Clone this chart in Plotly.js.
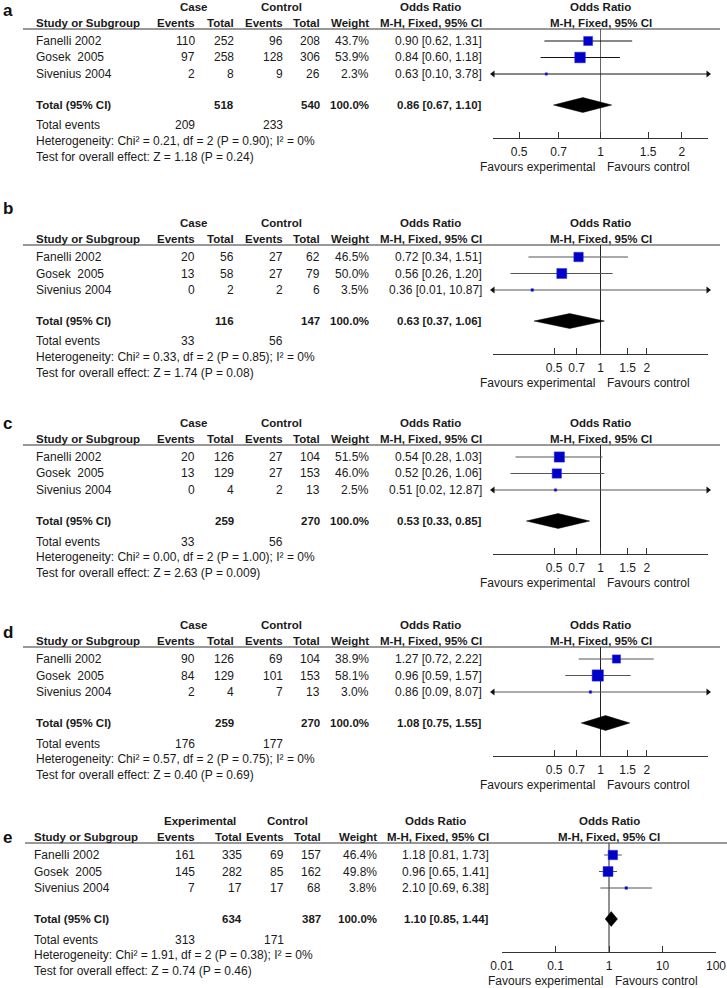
<!DOCTYPE html>
<html><head><meta charset="utf-8">
<script src="https://cdn.plot.ly/plotly-3.0.1.min.js"></script>
<style>html,body{margin:0;padding:0;background:#fff}</style>
</head><body><div id="chart" style="width:727px;height:988px"></div>
<script>
// ---------- DATA ----------
const panelLetters = ['a','b','c','d','e'];
const groupLabels = ['Case','Case','Case','Case','Experimental'];
const studies = ['Fanelli 2002','Gosek \u00a02005','Sivenius 2004'];
const expEvents = [[110,97,2],[20,13,0],[20,13,0],[90,84,2],[161,145,7]];
const expTotal  = [[252,258,8],[56,58,2],[126,129,4],[126,129,4],[335,282,17]];
const ctlEvents = [[96,128,9],[27,27,2],[27,27,2],[69,101,7],[69,85,17]];
const ctlTotal  = [[208,306,26],[62,79,6],[104,153,13],[104,153,13],[157,162,68]];
const weights   = [[43.7,53.9,2.3],[46.5,50.0,3.5],[51.5,46.0,2.5],[38.9,58.1,3.0],[46.4,49.8,3.8]];
const orVal     = [[0.90,0.84,0.63],[0.72,0.56,0.36],[0.54,0.52,0.51],[1.27,0.96,0.86],[1.18,0.96,2.10]];
const ciLow     = [[0.62,0.60,0.10],[0.34,0.26,0.01],[0.28,0.26,0.02],[0.72,0.59,0.09],[0.81,0.65,0.69]];
const ciHigh    = [[1.31,1.18,3.78],[1.51,1.20,10.87],[1.03,1.06,12.87],[2.22,1.57,8.07],[1.73,1.41,6.38]];
const totExp = [518,116,259,259,634];
const totCtl = [540,147,270,270,387];
const totEventsExp = [209,33,33,176,313];
const totEventsCtl = [233,56,56,177,171];
const pooledOR   = [0.86,0.63,0.53,1.08,1.10];
const pooledLow  = [0.67,0.37,0.33,0.75,0.85];
const pooledHigh = [1.10,1.06,0.85,1.55,1.44];
const chi2 = ['0.21','0.33','0.00','0.57','1.91'];
const hetP = ['0.90','0.85','1.00','0.75','0.38'];
const zVal = ['1.18','1.74','2.63','0.40','0.74'];
const zP   = ['0.24','0.08','0.009','0.69','0.46'];
const axisTicks = [[0.5,0.7,1,1.5,2],[0.5,0.7,1,1.5,2],[0.5,0.7,1,1.5,2],[0.5,0.7,1,1.5,2],[0.01,0.1,1,10,100]];
const axisTickText = [['0.5','0.7','1','1.5','2'],['0.5','0.7','1','1.5','2'],['0.5','0.7','1','1.5','2'],['0.5','0.7','1','1.5','2'],['0.01','0.1','1','10','100']];
const axisLimits = [[0.4,2.5],[0.2,5],[0.2,5],[0.2,5],[0.01,100]];
const nullEffect = 1;

// ---------- LAYOUT CONSTANTS ----------
const W=727,H=988;
const FONT='Liberation Sans, Arial, sans-serif';
const TXT='#1a1a1a';
const FS=12, FSB=11.5;
const panelBase=[0,216,416,618,814];
const letterY=[10,208,423,632,837];
const colStd={study:35,ev1:196,tot1:235,ev2:284,tot2:321,w:370,or:483,grp1:194,grp2:281,orHead:430,line:[23,720],axis:[493,708]};
const colE  ={study:33,ev1:196,tot1:243,ev2:285,tot2:322,w:378,or:490,grp1:200,grp2:287,orHead:435,line:[25,727],axis:[502,716]};
const OFF={h1:7,h2:23,line:29,row0:41,rowStep:16.5,totalIdx:3.88,events:125.5,het:141,test:157,axis:138,fav:167};
const rowIdx=[0,1,2];
const rowPx = i => OFF.row0 + OFF.rowStep*i;
const pxToRow = p => (p-OFF.row0)/OFF.rowStep;

const annotations=[], shapes=[], traces=[];
const layout={width:W,height:H,margin:{l:0,r:0,t:0,b:0},paper_bgcolor:'#fff',plot_bgcolor:'rgba(0,0,0,0)',showlegend:false,font:{family:FONT,size:FS,color:TXT}};

function ann(px,py,text,anchor,extra){
  const bold = text.indexOf('<b>')===0;
  annotations.push(Object.assign({xref:'paper',yref:'paper',x:px/W,y:1-py/H,text:text,showarrow:false,
    xanchor:anchor,yanchor:'middle',font:{family:FONT,size:bold?FSB:FS,color:TXT},borderpad:0},extra||{}));
}
function annAx(xa,py,text,anchor,shift){
  const bold = text.indexOf('<b>')===0;
  annotations.push({xref:xa,yref:'paper',x:0,y:1-py/H,text:text,showarrow:false,xanchor:anchor,xshift:shift||0,
    yanchor:'middle',font:{family:FONT,size:bold?FSB:FS,color:TXT},borderpad:0});
}
const f2 = v => v.toFixed(2);
const ciText = (o,l,h) => f2(o)+' ['+f2(l)+', '+f2(h)+']';

for(let p=0;p<5;p++){
  const B=panelBase[p];
  const c = p===4?colE:colStd;
  const xa = 'x'+(p===0?'':(p+1)), ya='y'+(p===0?'':(p+1));
  const xk = 'xaxis'+(p===0?'':(p+1)), yk='yaxis'+(p===0?'':(p+1));
  const lim=axisLimits[p];
  layout[xk]={type:'log',domain:[c.axis[0]/W,c.axis[1]/W],range:[Math.log10(lim[0]),Math.log10(lim[1])],anchor:ya,
    tickmode:'array',tickvals:axisTicks[p],ticktext:axisTickText[p],ticks:'inside',ticklen:6,tickcolor:'#333',tickwidth:1,
    showline:true,linecolor:'#333',linewidth:1,showgrid:false,zeroline:false,fixedrange:true,
    tickfont:{family:FONT,size:FS,color:TXT},ticklabelstandoff:3};
  layout[yk]={domain:[1-(B+OFF.axis)/H,1-(B+OFF.line)/H],range:[pxToRow(OFF.axis),pxToRow(OFF.line)],anchor:xa,
    visible:false,showgrid:false,zeroline:false,fixedrange:true};
  shapes.push({type:'line',xref:'paper',yref:'paper',x0:c.line[0]/W,x1:c.line[1]/W,y0:1-(B+OFF.line)/H,y1:1-(B+OFF.line)/H,line:{color:'#333',width:1}});

  ann(2,letterY[p],'<b>'+panelLetters[p]+'</b>','left',{font:{family:FONT,size:17,color:'#111'}});
  ann(c.grp1,B+OFF.h1,'<b>'+groupLabels[p]+'</b>','center');
  ann(c.grp2,B+OFF.h1,'<b>Control</b>','center');
  ann(c.orHead,B+OFF.h1,'<b>Odds Ratio</b>','center');
  annAx(xa,B+OFF.h1,'<b>Odds Ratio</b>','center');
  ann(c.study,B+OFF.h2,'<b>Study or Subgroup</b>','left');
  ann(c.ev1,B+OFF.h2,'<b>Events</b>','right');
  ann(c.tot1,B+OFF.h2,'<b>Total</b>','right');
  ann(c.ev2,B+OFF.h2,'<b>Events</b>','right');
  ann(c.tot2,B+OFF.h2,'<b>Total</b>','right');
  ann(c.w,B+OFF.h2,'<b>Weight</b>','right');
  ann(c.or,B+OFF.h2,'<b>M-H, Fixed, 95% CI</b>','right');
  annAx(xa,B+OFF.h2,'<b>M-H, Fixed, 95% CI</b>','center');
  rowIdx.forEach((r,i)=>{
    const y=B+rowPx(r);
    ann(c.study,y,studies[i],'left');
    ann(c.ev1,y,String(expEvents[p][i]),'right');
    ann(c.tot1,y,String(expTotal[p][i]),'right');
    ann(c.ev2,y,String(ctlEvents[p][i]),'right');
    ann(c.tot2,y,String(ctlTotal[p][i]),'right');
    ann(c.w,y,weights[p][i].toFixed(1)+'%','right');
    ann(c.or,y,ciText(orVal[p][i],ciLow[p][i],ciHigh[p][i]),'right');
  });
  const ty=B+rowPx(OFF.totalIdx);
  const wsum=weights[p].reduce((a,b)=>a+b,0);
  ann(c.study,ty,'<b>Total (95% CI)</b>','left');
  ann(c.tot1,ty,'<b>'+totExp[p]+'</b>','right');
  ann(c.tot2,ty,'<b>'+totCtl[p]+'</b>','right');
  ann(c.w,ty,'<b>'+Math.round(wsum).toFixed(1)+'%</b>','right');
  ann(c.or,ty,'<b>'+ciText(pooledOR[p],pooledLow[p],pooledHigh[p])+'</b>','right');
  ann(c.study,B+OFF.events,'Total events','left');
  ann(c.ev1,B+OFF.events,String(totEventsExp[p]),'right');
  ann(c.ev2,B+OFF.events,String(totEventsCtl[p]),'right');
  ann(c.study,B+OFF.het,'Heterogeneity: Chi\u00b2 = '+chi2[p]+', df = 2 (P = '+hetP[p]+'); I\u00b2 = 0%','left');
  ann(c.study,B+OFF.test,'Test for overall effect: Z = '+zVal[p]+' (P = '+zP[p]+')','left');
  annAx(xa,B+OFF.fav,'Favours experimental','right',-5);
  annAx(xa,B+OFF.fav,'Favours control','left',5);

  // ---- forest traces ----
  traces.push({type:'scatter',mode:'lines',x:[nullEffect,nullEffect],y:[pxToRow(OFF.line),pxToRow(OFF.axis)],xaxis:xa,yaxis:ya,
    line:{color:p===0?'#666':'#222',width:1},hoverinfo:'skip'});
  const lx=[],ly=[],arLx=[],arLy=[],arRx=[],arRy=[];
  rowIdx.forEach((r,i)=>{
    const lo=Math.max(ciLow[p][i],lim[0]), hi=Math.min(ciHigh[p][i],lim[1]);
    lx.push(lo,hi,null); ly.push(r,r,null);
    if(ciLow[p][i]<lim[0]){arLx.push(lim[0]);arLy.push(r);}
    if(ciHigh[p][i]>lim[1]){arRx.push(lim[1]);arRy.push(r);}
  });
  traces.push({type:'scatter',mode:'lines',x:lx,y:ly,xaxis:xa,yaxis:ya,line:{color:p===0?'#111':'#555',width:1},hoverinfo:'skip'});
  if(arLx.length) traces.push({type:'scatter',mode:'markers',x:arLx,y:arLy,xaxis:xa,yaxis:ya,cliponaxis:false,marker:{symbol:'triangle-left',size:6,color:'#111',opacity:1},hoverinfo:'skip'});
  if(arRx.length) traces.push({type:'scatter',mode:'markers',x:arRx,y:arRy,xaxis:xa,yaxis:ya,cliponaxis:false,marker:{symbol:'triangle-right',size:6,color:'#111',opacity:1},hoverinfo:'skip'});
  traces.push({type:'scatter',mode:'markers',x:orVal[p],y:rowIdx,xaxis:xa,yaxis:ya,
    marker:{symbol:'square',color:'#0000c8',opacity:1,size:weights[p].map(w=>2+w*0.16),line:{width:0.5,color:'#3030e0'}},hoverinfo:'skip'});
  const t=OFF.totalIdx, h=0.45;
  traces.push({type:'scatter',mode:'lines',x:[pooledLow[p],pooledOR[p],pooledHigh[p],pooledOR[p],pooledLow[p]],
    y:[t,t-h,t,t+h,t],xaxis:xa,yaxis:ya,fill:'toself',fillcolor:'#000',line:{color:'#000',width:0.5},hoverinfo:'skip'});
}
layout.annotations=annotations;
layout.shapes=shapes;
Plotly.newPlot('chart',traces,layout,{staticPlot:true,displayModeBar:false});
</script></body></html>
